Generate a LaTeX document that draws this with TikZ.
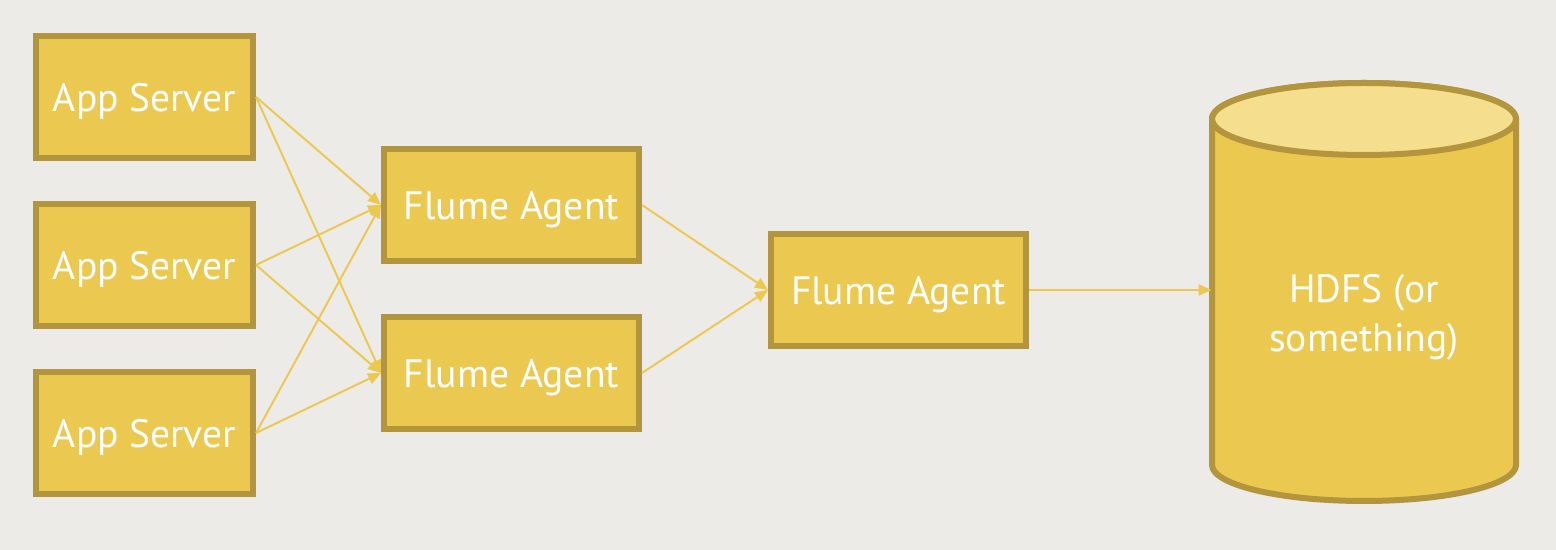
\documentclass[tikz,border=0pt]{standalone}
\usepackage{fontspec}
\setmainfont{PT Sans}
\usepackage{tikz}
\usetikzlibrary{arrows.meta,positioning}
\usepackage{xcolor}
\definecolor{flbg}{RGB}{236,235,232}
\definecolor{flgold}{RGB}{235,200,80}
\definecolor{flborder}{RGB}{178,149,60}
\definecolor{fllight}{RGB}{245,222,142}
\tikzstyle{arrow} = [line width=1.1pt,-{Triangle[length=0.26cm,width=0.22cm]},color=flgold]
\tikzstyle{appbox} = [rectangle, minimum width=4.34cm, minimum height=2.44cm, text centered, text depth=0pt, draw=flborder, fill=flgold, line width=0.12cm, text=white, font=\fontsize{22.5}{27}\selectfont]
\tikzstyle{agentbox} = [rectangle, minimum width=5.1cm, minimum height=2.24cm, text centered, text depth=0pt, draw=flborder, fill=flgold, line width=0.12cm, text=white, font=\fontsize{22.5}{27}\selectfont]

\begin{document}
\begin{tikzpicture}
\fill[flbg] (0,0) rectangle (31.12,11);
\useasboundingbox (0,0) rectangle (31.12,11);
% app servers
\node[appbox] (a1) at (2.89,9.06) {App Server};
\node[appbox] (a2) at (2.89,5.70) {App Server};
\node[appbox] (a3) at (2.89,2.34) {App Server};
% flume agents
\node[agentbox] (f1) at (10.23,6.90) {Flume Agent};
\node[agentbox] (f2) at (10.23,3.54) {Flume Agent};
\node[agentbox] (fm) at (17.97,5.20) {Flume Agent};
% storage
\draw[flborder, fill=flgold, line width=0.12cm] (24.24,8.62) -- (24.24,1.70)
  arc[start angle=180, end angle=360, x radius=3.04, y radius=0.72] -- (30.32,8.62)
  arc[start angle=0, end angle=180, x radius=3.04, y radius=0.72] -- cycle;
\draw[flborder, fill=fllight, line width=0.12cm] (27.28,8.62) ellipse [x radius=3.04, y radius=0.72];
\node[minimum width=6.08cm, inner sep=0pt, align=center, text=white, font=\fontsize{22.5}{28}\selectfont] (hdfs) at (27.28,4.66) {HDFS (or\\something)};

\draw[arrow] (a1.east) -- (f1.west);
\draw[arrow] (a1.east) -- (f2.west);
\draw[arrow] (a2.east) -- (f1.west);
\draw[arrow] (a2.east) -- (f2.west);
\draw[arrow] (a3.east) -- (f1.west);
\draw[arrow] (a3.east) -- (f2.west);
\draw[arrow] (f1.east) -- (fm.west);
\draw[arrow] (f2.east) -- (fm.west);
\draw[arrow] (fm.east) -- (fm.east -| hdfs.west);
\end{tikzpicture}
\end{document}
